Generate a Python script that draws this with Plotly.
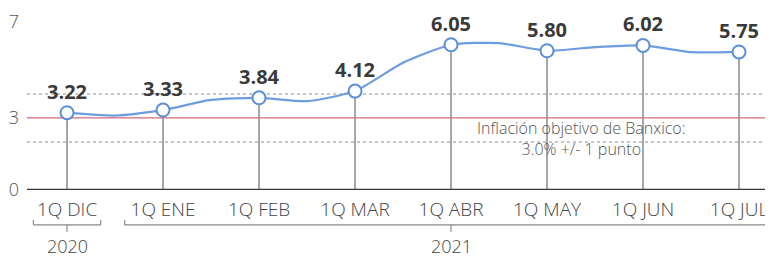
import plotly.graph_objects as go

# Biweekly series (1Q labelled, 2Q unlabelled)
x_all = [0, 0.5, 1, 1.5, 2, 2.5, 3, 3.5, 4, 4.5, 5, 5.5, 6, 6.5, 7]
y_all = [3.22, 3.10, 3.33, 3.75, 3.84, 3.70, 4.12, 5.30, 6.05, 6.12, 5.80, 5.95, 6.02, 5.74, 5.75]

categories = ["1Q DIC", "1Q ENE", "1Q FEB", "1Q MAR", "1Q ABR", "1Q MAY", "1Q JUN", "1Q JUL"]
values = [3.22, 3.33, 3.84, 4.12, 6.05, 5.80, 6.02, 5.75]
labels = ["3.22", "3.33", "3.84", "4.12", "6.05", "5.80", "6.02", "5.75"]
cat_x = list(range(len(categories)))

target = 3.0
band = [2.0, 4.0]
y_ticks = [0, 3, 7]
years = [("2020", 0, -0.35, 0.35), ("2021", 4, 0.6, 7.6)]
note_lines = ["Inflación objetivo de Banxico:", "3.0% +/- 1 punto"]

LIGHT = "Open Sans"
BOLD = "Open Sans"

fig = go.Figure()

# drop lines
for xv, yv in zip(cat_x, values):
    fig.add_shape(type="line", xref="x", yref="y", x0=xv, x1=xv, y0=0, y1=yv,
                  line=dict(color="#8a8a8a", width=1.5), layer="below")

# band dotted lines
for b in band:
    fig.add_shape(type="line", xref="paper", yref="y", x0=0, x1=1, y0=b, y1=b,
                  line=dict(color="#b5b5b5", width=1.5, dash="dot"), layer="below")
# target line
fig.add_shape(type="line", xref="paper", yref="y", x0=0, x1=1, y0=target, y1=target,
              line=dict(color="#d46a78", width=1.3), layer="below")
# zero axis line
fig.add_shape(type="line", xref="paper", yref="y", x0=0, x1=1, y0=0, y1=0,
              line=dict(color="#3a3a3a", width=2.5))

fig.add_trace(go.Scatter(x=x_all, y=y_all, mode="lines",
                         line=dict(color="#6d9de0", width=2.2, shape="spline", smoothing=0.6),
                         hoverinfo="skip", showlegend=False))
fig.add_trace(go.Scatter(x=cat_x, y=values, mode="markers+text", text=labels,
                         textposition="top center",
                         textfont=dict(family=BOLD, size=20, color="#3a3a3a", weight="bold"),
                         marker=dict(size=13, color="white", line=dict(color="#5b8fd8", width=2)),
                         cliponaxis=False, showlegend=False))

# year brackets
for name, cx, x0, x1 in years:
    yb = -0.192
    fig.add_shape(type="line", xref="x", yref="paper", x0=x0, x1=x1, y0=yb, y1=yb,
                  line=dict(color="#888", width=1.2))
    fig.add_shape(type="line", xref="x", yref="paper", x0=x0, x1=x0, y0=yb, y1=yb + 0.027,
                  line=dict(color="#888", width=1.2))
    fig.add_shape(type="line", xref="x", yref="paper", x0=x1, x1=x1, y0=yb, y1=yb + 0.027,
                  line=dict(color="#888", width=1.2))
    fig.add_shape(type="line", xref="x", yref="paper", x0=cx, x1=cx, y0=yb, y1=yb - 0.038,
                  line=dict(color="#888", width=1.2))
    fig.add_annotation(x=cx, xref="x", y=-0.305, yref="paper", text=name, showarrow=False,
                       yanchor="middle", font=dict(family=LIGHT, size=18, color="#444", weight=300))

fig.add_annotation(x=5.36, y=2.125, xref="x", yref="y", text="<br>".join(note_lines),
                   showarrow=False,
                   font=dict(family=LIGHT, size=16, color="#555", weight=300))

fig.update_xaxes(range=[-0.417, 7.354], tickvals=cat_x, ticktext=categories,
                 showgrid=False, zeroline=False, showline=False, ticks="",
                 ticklabelstandoff=6, automargin=False,
                 tickfont=dict(family=LIGHT, size=19, color="#444", weight=300))
fig.update_yaxes(range=[0, 7.58], tickvals=y_ticks, showgrid=False, zeroline=False,
                 showline=False, ticks="", ticklabelstandoff=7, automargin=False,
                 tickfont=dict(family=LIGHT, size=18, color="#555", weight=300))
fig.update_layout(width=765, height=250, margin=dict(l=19, r=0, t=0, b=68),
                  paper_bgcolor="white", plot_bgcolor="white")

fig.write_html("out.html")
